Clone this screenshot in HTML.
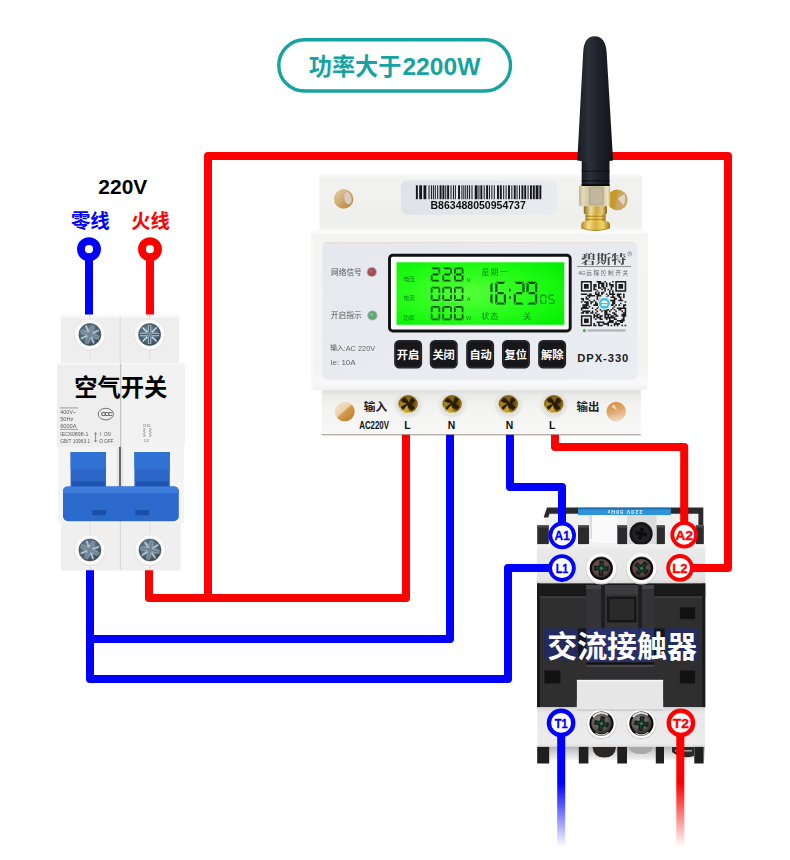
<!DOCTYPE html><html lang="zh"><head><meta charset="utf-8"><title>wiring</title><style>html,body{margin:0;padding:0;background:#fff}body{width:790px;height:860px;overflow:hidden;font-family:"Liberation Sans",sans-serif}svg{display:block}</style></head><body><svg role="img" aria-label="功率大于2200W 接线图" width="790" height="860" viewBox="0 0 790 860"><defs>
<linearGradient id="fadeB" x1="0" y1="0" x2="0" y2="1"><stop offset="0" stop-color="#0000ff"/><stop offset="0.43" stop-color="#0000ff"/><stop offset="1" stop-color="#0000ff" stop-opacity="0"/></linearGradient>
<linearGradient id="fadeR" x1="0" y1="0" x2="0" y2="1"><stop offset="0" stop-color="#ff0000"/><stop offset="0.43" stop-color="#ff0000"/><stop offset="1" stop-color="#ff0000" stop-opacity="0"/></linearGradient>
<radialGradient id="steel" cx="0.45" cy="0.42" r="0.62"><stop offset="0" stop-color="#7b93a4"/><stop offset="0.65" stop-color="#4f6678"/><stop offset="1" stop-color="#35434f"/></radialGradient>
<radialGradient id="brass" cx="0.5" cy="0.45" r="0.6"><stop offset="0" stop-color="#3a2a08"/><stop offset="0.55" stop-color="#6a5010"/><stop offset="0.85" stop-color="#9c7c1c"/><stop offset="1" stop-color="#5e480e"/></radialGradient>
<linearGradient id="amber" x1="0.1" y1="0.15" x2="0.9" y2="0.85"><stop offset="0" stop-color="#f6ead6"/><stop offset="0.38" stop-color="#ecd3a8"/><stop offset="0.55" stop-color="#d9a55c"/><stop offset="1" stop-color="#c07f2c"/></linearGradient>
<radialGradient id="darkscrew" cx="0.45" cy="0.4" r="0.6"><stop offset="0" stop-color="#6a6f68"/><stop offset="0.6" stop-color="#3a3d38"/><stop offset="1" stop-color="#1a1a1a"/></radialGradient>
<linearGradient id="ant" x1="0" y1="0" x2="1" y2="0"><stop offset="0" stop-color="#181b22"/><stop offset="0.3" stop-color="#2c3039"/><stop offset="0.55" stop-color="#20232b"/><stop offset="1" stop-color="#12141a"/></linearGradient>
<linearGradient id="gold2" x1="0" y1="0" x2="1" y2="0"><stop offset="0" stop-color="#b08a24"/><stop offset="0.25" stop-color="#f4dc80"/><stop offset="0.5" stop-color="#d8b040"/><stop offset="0.75" stop-color="#f0d468"/><stop offset="1" stop-color="#a07818"/></linearGradient>
<linearGradient id="nut" x1="0" y1="0" x2="1" y2="0"><stop offset="0" stop-color="#b9ae88"/><stop offset="0.12" stop-color="#e4dcbc"/><stop offset="0.3" stop-color="#cfc6a2"/><stop offset="0.8" stop-color="#d6cda8"/><stop offset="0.92" stop-color="#ece4c4"/><stop offset="1" stop-color="#c4b890"/></linearGradient>
<linearGradient id="gold" x1="0" y1="0" x2="1" y2="0"><stop offset="0" stop-color="#8a6a22"/><stop offset="0.3" stop-color="#f0dc98"/><stop offset="0.55" stop-color="#c9a648"/><stop offset="0.8" stop-color="#e6cc80"/><stop offset="1" stop-color="#7a5c1c"/></linearGradient>
<radialGradient id="lcd" cx="0.42" cy="0.5" r="0.7"><stop offset="0" stop-color="#56ff3a"/><stop offset="0.6" stop-color="#22fb16"/><stop offset="1" stop-color="#05f005"/></radialGradient>
<linearGradient id="lbl" x1="0" y1="0" x2="1" y2="0"><stop offset="0" stop-color="#dfe3e9"/><stop offset="1" stop-color="#e9ebef"/></linearGradient>
<linearGradient id="bodyV" x1="0" y1="0" x2="0" y2="1"><stop offset="0" stop-color="#f4f4f3"/><stop offset="0.88" stop-color="#f3f3f2"/><stop offset="0.95" stop-color="#f9f9f9"/><stop offset="1" stop-color="#f1f1f0"/></linearGradient>
<linearGradient id="topV" x1="0" y1="0" x2="0" y2="1"><stop offset="0" stop-color="#f8f8f7"/><stop offset="0.08" stop-color="#f1f1ef"/><stop offset="0.8" stop-color="#efefed"/><stop offset="1" stop-color="#f6f6f5"/></linearGradient>
<linearGradient id="termV" x1="0" y1="0" x2="0" y2="1"><stop offset="0" stop-color="#d6d6d4"/><stop offset="0.11" stop-color="#dededc"/><stop offset="0.22" stop-color="#ececeb"/><stop offset="0.45" stop-color="#f3f3f2"/><stop offset="1" stop-color="#f8f8f8"/></linearGradient>
<linearGradient id="faceV" x1="0" y1="0" x2="1" y2="1"><stop offset="0" stop-color="#e6e8ee"/><stop offset="1" stop-color="#eaedf2"/></linearGradient>
<linearGradient id="holeA" x1="0.1" y1="0.1" x2="0.9" y2="0.9"><stop offset="0" stop-color="#e0c9a2"/><stop offset="0.5" stop-color="#cfa970"/><stop offset="1" stop-color="#b98436"/></linearGradient>
<linearGradient id="holeB" x1="0" y1="0.4" x2="1" y2="0.6"><stop offset="0" stop-color="#c9961e"/><stop offset="0.4" stop-color="#c89a2a"/><stop offset="0.55" stop-color="#cba766"/><stop offset="1" stop-color="#c9a86e"/></linearGradient>
<linearGradient id="holeC" x1="0.15" y1="0.1" x2="0.85" y2="0.9"><stop offset="0" stop-color="#f1e2cc"/><stop offset="0.42" stop-color="#ecd2ac"/><stop offset="0.52" stop-color="#d29a50"/><stop offset="1" stop-color="#c28232"/></linearGradient>
<linearGradient id="holeD" x1="0.3" y1="0" x2="0.6" y2="1"><stop offset="0" stop-color="#d48f42"/><stop offset="0.45" stop-color="#dfa568"/><stop offset="1" stop-color="#efdcc6"/></linearGradient>
<linearGradient id="termShadow" x1="0" y1="0" x2="0" y2="1"><stop offset="0" stop-color="#c9c8c4"/><stop offset="1" stop-color="#f3f2ee"/></linearGradient>
<linearGradient id="bandV" x1="0" y1="0" x2="0" y2="1"><stop offset="0" stop-color="#f4f4f4"/><stop offset="0.15" stop-color="#e9e9e9"/><stop offset="0.9" stop-color="#e4e4e4"/><stop offset="1" stop-color="#cfcfcf"/></linearGradient>
<linearGradient id="bandV2" x1="0" y1="0" x2="0" y2="1"><stop offset="0" stop-color="#d6d6d6"/><stop offset="0.15" stop-color="#e8e8e8"/><stop offset="0.9" stop-color="#ececec"/><stop offset="1" stop-color="#dcdcdc"/></linearGradient>
<linearGradient id="botV" x1="0" y1="0" x2="0" y2="1"><stop offset="0" stop-color="#b4b4b4"/><stop offset="0.5" stop-color="#d8d8d8"/><stop offset="1" stop-color="#f2f2f2"/></linearGradient>
<radialGradient id="cs2" cx="0.42" cy="0.38" r="0.7"><stop offset="0" stop-color="#9a9090"/><stop offset="0.6" stop-color="#5e5654"/><stop offset="1" stop-color="#1e1c1c"/></radialGradient>
<radialGradient id="cs" cx="0.45" cy="0.4" r="0.65"><stop offset="0" stop-color="#7a5f58"/><stop offset="0.7" stop-color="#5a433e"/><stop offset="1" stop-color="#2a2220"/></radialGradient>
<filter id="b1" x="-10%" y="-10%" width="120%" height="120%"><feGaussianBlur stdDeviation="0.6"/></filter>
<filter id="b2" x="-10%" y="-10%" width="120%" height="120%"><feGaussianBlur stdDeviation="1.2"/></filter>
<filter id="b05" x="-10%" y="-10%" width="120%" height="120%"><feGaussianBlur stdDeviation="0.35"/></filter>
</defs><rect x="278.8" y="39.7" width="231.7" height="51.3" rx="25.6" fill="#fff" stroke="#16a3a1" stroke-width="3.4"/>
<text x="308.8" y="75.1" font-family="Liberation Sans, Noto Sans CJK SC, sans-serif" font-size="23.5" font-weight="bold" fill="#16a3a1" text-anchor="start" textLength="92.5" lengthAdjust="spacingAndGlyphs">功率大于</text>
<text x="402.4" y="75.1" font-family="Liberation Sans, sans-serif" font-size="23.6" font-weight="bold" fill="#16a3a1" text-anchor="start" textLength="78" lengthAdjust="spacingAndGlyphs">2200W</text>
<path d="M208 598 L208 156 L728 156 L728 568 L712 568" fill="none" stroke="#ff0000" stroke-width="8.0" stroke-linejoin="round" />
<g><rect x="61" y="315.8" width="118" height="48" rx="2" fill="#eeeeef"/><rect x="61" y="315.8" width="118" height="2" rx="1" fill="#f7f7f7"/><rect x="61" y="519" width="119.8" height="51.5" rx="2" fill="#efefef"/><rect x="58.2" y="445" width="125.8" height="78" fill="#f4f4f4"/><rect x="116.5" y="447" width="7" height="40" fill="#e4e4e4"/><rect x="119.1" y="446" width="1.8" height="41" fill="#5a5a5a"/><rect x="57.2" y="362.8" width="127.6" height="84" rx="3" fill="#eeeeee"/><rect x="121" y="362.8" width="63.8" height="84" rx="3" fill="#f2f2f2"/><rect x="57.2" y="362.8" width="127.6" height="2" rx="1" fill="#f8f8f8"/><rect x="119.6" y="316" width="1.2" height="48" fill="#dcdcdc"/><rect x="120" y="364" width="1.3" height="83" fill="#c6c6c6"/><rect x="119.8" y="521" width="1.2" height="49" fill="#d8d8d8"/><rect x="70.6" y="452" width="35.4" height="36" fill="#2b66c6"/><rect x="70.6" y="452" width="35.4" height="17.4" fill="#3172d4"/><rect x="72.1" y="481.4" width="32.4" height="6" fill="#1f55b0"/><rect x="134.4" y="452" width="35.4" height="36" fill="#2b66c6"/><rect x="134.4" y="452" width="35.4" height="17.4" fill="#3172d4"/><rect x="135.9" y="481.4" width="32.4" height="6" fill="#1f55b0"/><rect x="63" y="486.4" width="115.8" height="34.8" rx="5" fill="#2c69cc"/><path d="M63 493 V491.4 Q63 486.4 68 486.4 H173.8 Q178.8 486.4 178.8 491.4 V493Z" fill="#3f7ddb"/><rect x="92.4" y="510" width="13.6" height="5.3" rx="1" fill="#1a4fa8"/><rect x="135.3" y="510" width="13.8" height="5.3" rx="1" fill="#1a4fa8"/><rect x="89.5" y="314.5" width="0.9" height="9" fill="#d8d8d8"/><rect x="89.5" y="345.5" width="0.9" height="14" fill="#dedede"/><circle cx="89.9" cy="335.0" r="15.6" fill="#e2e2e2" filter="url(#b1)"/><circle cx="89.9" cy="334.5" r="14.8" fill="#fbfbfb"/><circle cx="89.9" cy="334.5" r="11" fill="url(#steel)"/><g transform="translate(89.9 334.5) rotate(20)" filter="url(#b05)"><path d="M-9.5 -1.7H-1.7V-9.5H1.7V-1.7H9.5V1.7H1.7V9.5H-1.7V1.7H-9.5Z" fill="#9fb4c3"/><path d="M-7 -7L7 7M7 -7L-7 7" stroke="#e4ecf1" stroke-width="1.1"/><path d="M-9 0H9M0 -9V9" stroke="#33424e" stroke-width="0.9"/><rect x="-2.6" y="-2.6" width="5.2" height="5.2" fill="#6f8a9c"/></g><circle cx="89.9" cy="334.5" r="11" fill="none" stroke="#3c4a55" stroke-width="0.8" opacity="0.7"/><rect x="149.2" y="314.5" width="0.9" height="9" fill="#d8d8d8"/><rect x="149.2" y="345.5" width="0.9" height="14" fill="#dedede"/><circle cx="149.6" cy="335.0" r="15.6" fill="#e2e2e2" filter="url(#b1)"/><circle cx="149.6" cy="334.5" r="14.8" fill="#fbfbfb"/><circle cx="149.6" cy="334.5" r="11" fill="url(#steel)"/><g transform="translate(149.6 334.5) rotate(0)" filter="url(#b05)"><path d="M-9.5 -1.7H-1.7V-9.5H1.7V-1.7H9.5V1.7H1.7V9.5H-1.7V1.7H-9.5Z" fill="#9fb4c3"/><path d="M-7 -7L7 7M7 -7L-7 7" stroke="#e4ecf1" stroke-width="1.1"/><path d="M-9 0H9M0 -9V9" stroke="#33424e" stroke-width="0.9"/><rect x="-2.6" y="-2.6" width="5.2" height="5.2" fill="#6f8a9c"/></g><circle cx="149.6" cy="334.5" r="11" fill="none" stroke="#3c4a55" stroke-width="0.8" opacity="0.7"/><rect x="89.5" y="561" width="0.9" height="9" fill="#d8d8d8"/><rect x="89.5" y="522" width="0.9" height="17" fill="#dedede"/><circle cx="89.9" cy="550.5" r="15.6" fill="#e2e2e2" filter="url(#b1)"/><circle cx="89.9" cy="550" r="14.8" fill="#fbfbfb"/><circle cx="89.9" cy="550" r="11" fill="url(#steel)"/><g transform="translate(89.9 550) rotate(25)" filter="url(#b05)"><path d="M-9.5 -1.7H-1.7V-9.5H1.7V-1.7H9.5V1.7H1.7V9.5H-1.7V1.7H-9.5Z" fill="#9fb4c3"/><path d="M-7 -7L7 7M7 -7L-7 7" stroke="#e4ecf1" stroke-width="1.1"/><path d="M-9 0H9M0 -9V9" stroke="#33424e" stroke-width="0.9"/><rect x="-2.6" y="-2.6" width="5.2" height="5.2" fill="#6f8a9c"/></g><circle cx="89.9" cy="550" r="11" fill="none" stroke="#3c4a55" stroke-width="0.8" opacity="0.7"/><rect x="149.6" y="561" width="0.9" height="9" fill="#d8d8d8"/><rect x="149.6" y="522" width="0.9" height="17" fill="#dedede"/><circle cx="150" cy="550.5" r="15.6" fill="#e2e2e2" filter="url(#b1)"/><circle cx="150" cy="550" r="14.8" fill="#fbfbfb"/><circle cx="150" cy="550" r="11" fill="url(#steel)"/><g transform="translate(150 550) rotate(12)" filter="url(#b05)"><path d="M-9.5 -1.7H-1.7V-9.5H1.7V-1.7H9.5V1.7H1.7V9.5H-1.7V1.7H-9.5Z" fill="#9fb4c3"/><path d="M-7 -7L7 7M7 -7L-7 7" stroke="#e4ecf1" stroke-width="1.1"/><path d="M-9 0H9M0 -9V9" stroke="#33424e" stroke-width="0.9"/><rect x="-2.6" y="-2.6" width="5.2" height="5.2" fill="#6f8a9c"/></g><circle cx="150" cy="550" r="11" fill="none" stroke="#3c4a55" stroke-width="0.8" opacity="0.7"/></g>
<text x="74.3" y="396.3" font-family="Liberation Sans, Noto Sans CJK SC, sans-serif" font-size="23.3" font-weight="bold" fill="#000" text-anchor="start" textLength="92.8" lengthAdjust="spacingAndGlyphs">空气开关</text>
<g filter="url(#b05)"><text x="60.2" y="414.3" font-family="Liberation Sans, sans-serif" font-size="4.9" font-weight="normal" fill="#5c5c5c" text-anchor="start" textLength="16" lengthAdjust="spacingAndGlyphs">400V~</text><text x="60.2" y="421.3" font-family="Liberation Sans, sans-serif" font-size="4.9" font-weight="normal" fill="#5c5c5c" text-anchor="start" textLength="13" lengthAdjust="spacingAndGlyphs">50Hz</text><text x="60.2" y="427.7" font-family="Liberation Sans, sans-serif" font-size="4.9" font-weight="normal" fill="#5c5c5c" text-anchor="start" textLength="16.3" lengthAdjust="spacingAndGlyphs">6000A</text><rect x="60" y="407.6" width="18" height="0.7" fill="#777"/><rect x="60" y="428.9" width="18" height="0.7" fill="#777"/><text x="60.2" y="436.4" font-family="Liberation Sans, sans-serif" font-size="4.9" font-weight="normal" fill="#5c5c5c" text-anchor="start" textLength="28.2" lengthAdjust="spacingAndGlyphs">IEC60898-1</text><text x="60.2" y="442.8" font-family="Liberation Sans, sans-serif" font-size="4.9" font-weight="normal" fill="#5c5c5c" text-anchor="start" textLength="30" lengthAdjust="spacingAndGlyphs">GB/T 10963.1</text><text x="99.6" y="436.4" font-family="Liberation Sans, sans-serif" font-size="4.9" font-weight="normal" fill="#555" text-anchor="start" >I</text><text x="104" y="436.4" font-family="Liberation Sans, sans-serif" font-size="4.9" font-weight="normal" fill="#555" text-anchor="start" textLength="6.6" lengthAdjust="spacingAndGlyphs">ON</text><text x="99.2" y="442.8" font-family="Liberation Sans, sans-serif" font-size="4.9" font-weight="normal" fill="#555" text-anchor="start" >O</text><text x="104" y="442.8" font-family="Liberation Sans, sans-serif" font-size="4.9" font-weight="normal" fill="#555" text-anchor="start" textLength="9.4" lengthAdjust="spacingAndGlyphs">OFF</text><path d="M95.6 433 v8.6 M94.5 434.2 l1.1 -1.6 l1.1 1.6 M94.5 440.4 l1.1 1.6 l1.1 -1.6" stroke="#444" stroke-width="0.6" fill="none"/><ellipse cx="105.8" cy="414.1" rx="7.6" ry="5.8" fill="none" stroke="#555" stroke-width="0.8"/><text x="106.3" y="416.2" font-family="Liberation Sans, sans-serif" font-size="6.2" font-weight="bold" fill="#444" text-anchor="middle" letter-spacing="-1.0" >CCC</text><path d="M143.5 428 q3 1.5 0 3 q3 1.5 0 3 q3 1.5 0 3 M149.5 428 q3 1.5 0 3 q3 1.5 0 3 q3 1.5 0 3" stroke="#555" stroke-width="0.7" fill="none"/><text x="146.5" y="426.5" font-family="Liberation Sans, sans-serif" font-size="2.6" font-weight="normal" fill="#666" text-anchor="middle" >1/2 3/4</text><text x="146.5" y="441.5" font-family="Liberation Sans, sans-serif" font-size="2.6" font-weight="normal" fill="#666" text-anchor="middle" >2/  4/</text></g>
<g><rect x="319.4" y="174.6" width="322.8" height="60" rx="2.5" fill="url(#topV)"/><rect x="321.8" y="385" width="319" height="50" rx="1.5" fill="url(#termV)"/><rect x="321.8" y="434.2" width="319" height="1.1" fill="#a39c94"/><rect x="311.2" y="230.2" width="336.6" height="160" rx="3.5" fill="url(#bodyV)"/><rect x="311.2" y="230.2" width="336.6" height="3.4" rx="2" fill="#fbfbfb"/><rect x="311.2" y="230.2" width="2.2" height="160" rx="1" fill="#f8f8f8"/><rect x="322.2" y="242.4" width="315.1" height="137.3" rx="5" fill="url(#faceV)"/><rect x="325" y="242.2" width="309" height="0.9" fill="#e4dccb"/><g filter="url(#b05)"><circle cx="343.6" cy="198.9" r="10.700000000000001" fill="#f6f4f0"/><circle cx="343.6" cy="198.9" r="9.8" fill="url(#holeA)"/><ellipse cx="347.90000000000003" cy="198.3" rx="3.6" ry="6.2" transform="rotate(-12 347.90000000000003 198.3)" fill="#dccbc2" filter="url(#b1)"/></g><g filter="url(#b05)"><circle cx="617.4" cy="199.9" r="11.200000000000001" fill="#f6f4f0"/><circle cx="617.4" cy="199.9" r="10.3" fill="url(#holeB)"/><path d="M617.9 198.4 L624.4 193.9 Q626.4 199.9 623.4 205.4 Z" fill="#e2d5c8" filter="url(#b1)"/></g><g filter="url(#b05)"><circle cx="344.8" cy="411.4" r="10.8" fill="#f6f4f0"/><circle cx="344.8" cy="411.4" r="9.9" fill="url(#holeC)"/></g><g filter="url(#b05)"><circle cx="616.2" cy="411.6" r="10.700000000000001" fill="#f6f4f0"/><circle cx="616.2" cy="411.6" r="9.8" fill="url(#holeD)"/><path d="M611.2 406.6 L617.2 410.6 L614.2 404.6Z" fill="#f2dcc4" filter="url(#b05)"/></g></g>
<g filter="url(#b05)"><rect x="401" y="180.4" width="155.8" height="34.4" rx="6" fill="url(#lbl)"/><rect x="415.9" y="185.3" width="1.92" height="13.9" fill="#15151a"/><rect x="419.23" y="185.3" width="2.82" height="13.9" fill="#15151a"/><rect x="423.47" y="185.3" width="2.82" height="13.9" fill="#15151a"/><rect x="428.51" y="185.3" width="1.01" height="13.9" fill="#15151a"/><rect x="430.93" y="185.3" width="1.01" height="13.9" fill="#15151a"/><rect x="432.85" y="185.3" width="1.01" height="13.9" fill="#15151a"/><rect x="434.77" y="185.3" width="1.01" height="13.9" fill="#15151a"/><rect x="437.19" y="185.3" width="1.01" height="13.9" fill="#15151a"/><rect x="439.61" y="185.3" width="1.92" height="13.9" fill="#15151a"/><rect x="442.43" y="185.3" width="1.92" height="13.9" fill="#15151a"/><rect x="445.26" y="185.3" width="1.01" height="13.9" fill="#15151a"/><rect x="447.17" y="185.3" width="1.92" height="13.9" fill="#15151a"/><rect x="450.5" y="185.3" width="1.01" height="13.9" fill="#15151a"/><rect x="452.92" y="185.3" width="1.01" height="13.9" fill="#15151a"/><rect x="454.84" y="185.3" width="1.01" height="13.9" fill="#15151a"/><rect x="458.07" y="185.3" width="1.92" height="13.9" fill="#15151a"/><rect x="461.4" y="185.3" width="1.01" height="13.9" fill="#15151a"/><rect x="463.32" y="185.3" width="1.01" height="13.9" fill="#15151a"/><rect x="465.23" y="185.3" width="1.01" height="13.9" fill="#15151a"/><rect x="467.15" y="185.3" width="1.01" height="13.9" fill="#15151a"/><rect x="469.07" y="185.3" width="1.01" height="13.9" fill="#15151a"/><rect x="471.49" y="185.3" width="1.01" height="13.9" fill="#15151a"/><rect x="474.72" y="185.3" width="2.82" height="13.9" fill="#15151a"/><rect x="478.45" y="185.3" width="1.01" height="13.9" fill="#15151a"/><rect x="480.37" y="185.3" width="1.92" height="13.9" fill="#15151a"/><rect x="483.69" y="185.3" width="1.01" height="13.9" fill="#15151a"/><rect x="486.12" y="185.3" width="1.92" height="13.9" fill="#15151a"/><rect x="488.94" y="185.3" width="1.01" height="13.9" fill="#15151a"/><rect x="491.36" y="185.3" width="1.01" height="13.9" fill="#15151a"/><rect x="493.78" y="185.3" width="1.01" height="13.9" fill="#15151a"/><rect x="497.01" y="185.3" width="1.92" height="13.9" fill="#15151a"/><rect x="499.84" y="185.3" width="1.92" height="13.9" fill="#15151a"/><rect x="503.17" y="185.3" width="1.01" height="13.9" fill="#15151a"/><rect x="505.59" y="185.3" width="1.01" height="13.9" fill="#15151a"/><rect x="508.01" y="185.3" width="1.92" height="13.9" fill="#15151a"/><rect x="511.34" y="185.3" width="1.01" height="13.9" fill="#15151a"/><rect x="513.76" y="185.3" width="1.92" height="13.9" fill="#15151a"/><rect x="516.58" y="185.3" width="1.01" height="13.9" fill="#15151a"/><rect x="519.0" y="185.3" width="1.01" height="13.9" fill="#15151a"/><rect x="521.43" y="185.3" width="1.92" height="13.9" fill="#15151a"/><rect x="524.25" y="185.3" width="1.92" height="13.9" fill="#15151a"/><rect x="527.58" y="185.3" width="1.01" height="13.9" fill="#15151a"/><rect x="530.0" y="185.3" width="1.92" height="13.9" fill="#15151a"/><rect x="532.83" y="185.3" width="1.92" height="13.9" fill="#15151a"/><rect x="535.65" y="185.3" width="2.82" height="13.9" fill="#15151a"/><rect x="539.38" y="185.3" width="1.92" height="13.9" fill="#15151a"/><text x="430.5" y="209.0" font-family="Liberation Sans, sans-serif" font-size="10.7" font-weight="bold" fill="#111" text-anchor="start" textLength="95.3" lengthAdjust="spacingAndGlyphs">B863488050954737</text></g>
<g filter="url(#b05)"><text x="331" y="274.8" font-family="Liberation Sans, Noto Sans CJK SC, sans-serif" font-size="7.7" font-weight="normal" fill="#555" text-anchor="start" textLength="30.8" lengthAdjust="spacingAndGlyphs">网络信号</text><circle cx="371.8" cy="272" r="5.1" fill="#a9a9a9"/><circle cx="371.8" cy="272" r="4.1" fill="#a3494f"/><circle cx="370.8" cy="271" r="1.8" fill="#b86a6e" opacity="0.7"/><text x="330.8" y="318.4" font-family="Liberation Sans, Noto Sans CJK SC, sans-serif" font-size="7.7" font-weight="normal" fill="#555" text-anchor="start" textLength="30.8" lengthAdjust="spacingAndGlyphs">开启指示</text><circle cx="372.4" cy="315.5" r="5.1" fill="#a9a9a9"/><circle cx="372.4" cy="315.5" r="4.1" fill="#5fa873"/><circle cx="371.4" cy="314.5" r="1.8" fill="#86c596" opacity="0.7"/><text x="330.3" y="350.4" font-family="Liberation Sans, Noto Sans CJK SC, sans-serif" font-size="6.8" font-weight="normal" fill="#5a5a5a" text-anchor="start" textLength="13.6" lengthAdjust="spacingAndGlyphs">输入</text><text x="343.6" y="350.5" font-family="Liberation Sans, sans-serif" font-size="8.0" font-weight="normal" fill="#666" text-anchor="start" textLength="31.6" lengthAdjust="spacingAndGlyphs">:AC 220V</text><text x="330.3" y="365.2" font-family="Liberation Sans, sans-serif" font-size="8.0" font-weight="normal" fill="#666" text-anchor="start" textLength="25.3" lengthAdjust="spacingAndGlyphs">Ie: 10A</text></g>
<g><rect x="389.5" y="255.3" width="180.7" height="75.7" rx="3.2" fill="#fbfbfb" stroke="#121216" stroke-width="2.9"/><rect x="396.5" y="262.3" width="167.8" height="62.5" fill="url(#lcd)"/><g filter="url(#b05)"><polygon points="431.32,267.4 439.68,267.4 437.93,269.15 433.07,269.15" fill="#0a4f0e"/><polygon points="440.2,267.92 438.45,269.67 438.45,273.1 440.2,273.98" fill="#0a4f0e"/><polygon points="432.2,274.5 433.07,273.62 437.93,273.62 438.8,274.5 437.93,275.38 433.07,275.38" fill="#0a4f0e"/><polygon points="430.8,275.02 432.55,275.9 432.55,279.32 430.8,281.07" fill="#0a4f0e"/><polygon points="431.32,281.6 439.68,281.6 437.93,279.85 433.07,279.85" fill="#0a4f0e"/><polygon points="442.93,267.4 451.28,267.4 449.53,269.15 444.68,269.15" fill="#0a4f0e"/><polygon points="451.8,267.92 450.05,269.67 450.05,273.1 451.8,273.98" fill="#0a4f0e"/><polygon points="443.8,274.5 444.68,273.62 449.53,273.62 450.4,274.5 449.53,275.38 444.68,275.38" fill="#0a4f0e"/><polygon points="442.4,275.02 444.15,275.9 444.15,279.32 442.4,281.07" fill="#0a4f0e"/><polygon points="442.93,281.6 451.28,281.6 449.53,279.85 444.68,279.85" fill="#0a4f0e"/><polygon points="454.52,267.4 462.88,267.4 461.12,269.15 456.27,269.15" fill="#0a4f0e"/><polygon points="463.4,267.92 461.65,269.67 461.65,273.1 463.4,273.98" fill="#0a4f0e"/><polygon points="463.4,275.02 461.65,275.9 461.65,279.32 463.4,281.07" fill="#0a4f0e"/><polygon points="454.52,281.6 462.88,281.6 461.12,279.85 456.27,279.85" fill="#0a4f0e"/><polygon points="454.0,275.02 455.75,275.9 455.75,279.32 454.0,281.07" fill="#0a4f0e"/><polygon points="454.0,267.92 455.75,269.67 455.75,273.1 454.0,273.98" fill="#0a4f0e"/><polygon points="455.4,274.5 456.27,273.62 461.12,273.62 462.0,274.5 461.12,275.38 456.27,275.38" fill="#0a4f0e"/><text x="468.6" y="281.59999999999997" font-family="Liberation Sans, sans-serif" font-size="5.6" font-weight="normal" fill="#0f8c16" text-anchor="middle" >V</text><polygon points="431.32,286.7 439.68,286.7 437.93,288.45 433.07,288.45" fill="#0a4f0e"/><polygon points="440.2,287.22 438.45,288.97 438.45,292.4 440.2,293.28" fill="#0a4f0e"/><polygon points="440.2,294.32 438.45,295.2 438.45,298.62 440.2,300.38" fill="#0a4f0e"/><polygon points="431.32,300.9 439.68,300.9 437.93,299.15 433.07,299.15" fill="#0a4f0e"/><polygon points="430.8,294.32 432.55,295.2 432.55,298.62 430.8,300.38" fill="#0a4f0e"/><polygon points="430.8,287.22 432.55,288.97 432.55,292.4 430.8,293.28" fill="#0a4f0e"/><polygon points="442.93,286.7 451.28,286.7 449.53,288.45 444.68,288.45" fill="#0a4f0e"/><polygon points="451.8,287.22 450.05,288.97 450.05,292.4 451.8,293.28" fill="#0a4f0e"/><polygon points="451.8,294.32 450.05,295.2 450.05,298.62 451.8,300.38" fill="#0a4f0e"/><polygon points="442.93,300.9 451.28,300.9 449.53,299.15 444.68,299.15" fill="#0a4f0e"/><polygon points="442.4,294.32 444.15,295.2 444.15,298.62 442.4,300.38" fill="#0a4f0e"/><polygon points="442.4,287.22 444.15,288.97 444.15,292.4 442.4,293.28" fill="#0a4f0e"/><polygon points="454.52,286.7 462.88,286.7 461.12,288.45 456.27,288.45" fill="#0a4f0e"/><polygon points="463.4,287.22 461.65,288.97 461.65,292.4 463.4,293.28" fill="#0a4f0e"/><polygon points="463.4,294.32 461.65,295.2 461.65,298.62 463.4,300.38" fill="#0a4f0e"/><polygon points="454.52,300.9 462.88,300.9 461.12,299.15 456.27,299.15" fill="#0a4f0e"/><polygon points="454.0,294.32 455.75,295.2 455.75,298.62 454.0,300.38" fill="#0a4f0e"/><polygon points="454.0,287.22 455.75,288.97 455.75,292.4 454.0,293.28" fill="#0a4f0e"/><text x="468.6" y="300.9" font-family="Liberation Sans, sans-serif" font-size="5.6" font-weight="normal" fill="#0f8c16" text-anchor="middle" >A</text><polygon points="431.32,306.0 439.68,306.0 437.93,307.75 433.07,307.75" fill="#0a4f0e"/><polygon points="440.2,306.52 438.45,308.27 438.45,311.7 440.2,312.58" fill="#0a4f0e"/><polygon points="440.2,313.62 438.45,314.5 438.45,317.93 440.2,319.68" fill="#0a4f0e"/><polygon points="431.32,320.2 439.68,320.2 437.93,318.45 433.07,318.45" fill="#0a4f0e"/><polygon points="430.8,313.62 432.55,314.5 432.55,317.93 430.8,319.68" fill="#0a4f0e"/><polygon points="430.8,306.52 432.55,308.27 432.55,311.7 430.8,312.58" fill="#0a4f0e"/><polygon points="442.93,306.0 451.28,306.0 449.53,307.75 444.68,307.75" fill="#0a4f0e"/><polygon points="451.8,306.52 450.05,308.27 450.05,311.7 451.8,312.58" fill="#0a4f0e"/><polygon points="451.8,313.62 450.05,314.5 450.05,317.93 451.8,319.68" fill="#0a4f0e"/><polygon points="442.93,320.2 451.28,320.2 449.53,318.45 444.68,318.45" fill="#0a4f0e"/><polygon points="442.4,313.62 444.15,314.5 444.15,317.93 442.4,319.68" fill="#0a4f0e"/><polygon points="442.4,306.52 444.15,308.27 444.15,311.7 442.4,312.58" fill="#0a4f0e"/><polygon points="454.52,306.0 462.88,306.0 461.12,307.75 456.27,307.75" fill="#0a4f0e"/><polygon points="463.4,306.52 461.65,308.27 461.65,311.7 463.4,312.58" fill="#0a4f0e"/><polygon points="463.4,313.62 461.65,314.5 461.65,317.93 463.4,319.68" fill="#0a4f0e"/><polygon points="454.52,320.2 462.88,320.2 461.12,318.45 456.27,318.45" fill="#0a4f0e"/><polygon points="454.0,313.62 455.75,314.5 455.75,317.93 454.0,319.68" fill="#0a4f0e"/><polygon points="454.0,306.52 455.75,308.27 455.75,311.7 454.0,312.58" fill="#0a4f0e"/><text x="468.6" y="320.2" font-family="Liberation Sans, sans-serif" font-size="5.6" font-weight="normal" fill="#0f8c16" text-anchor="middle" >W</text><text x="403.2" y="281.1" font-family="Liberation Sans, Noto Sans CJK SC, sans-serif" font-size="5.9" font-weight="normal" fill="#0f8c16" text-anchor="start" textLength="11.8" lengthAdjust="spacingAndGlyphs">电压</text><text x="403.2" y="300.4" font-family="Liberation Sans, Noto Sans CJK SC, sans-serif" font-size="5.9" font-weight="normal" fill="#0f8c16" text-anchor="start" textLength="11.8" lengthAdjust="spacingAndGlyphs">电流</text><text x="402.9" y="319.7" font-family="Liberation Sans, Noto Sans CJK SC, sans-serif" font-size="5.9" font-weight="normal" fill="#0f8c16" text-anchor="start" textLength="11.8" lengthAdjust="spacingAndGlyphs">功率</text><text x="481.4" y="275.1" font-family="Liberation Sans, Noto Sans CJK SC, sans-serif" font-size="8" font-weight="normal" fill="#0f8c16" text-anchor="start" textLength="26.3" lengthAdjust="spacing">星期一</text><text x="481.3" y="319.1" font-family="Liberation Sans, Noto Sans CJK SC, sans-serif" font-size="8" font-weight="normal" fill="#0f8c16" text-anchor="start" textLength="16.9" lengthAdjust="spacing">状态</text><text x="523.3" y="319.1" font-family="Liberation Sans, Noto Sans CJK SC, sans-serif" font-size="8" font-weight="normal" fill="#0f8c16" text-anchor="start">关</text><polygon points="492.5,282.44 490.35,284.59 490.35,291.48 492.5,292.56" fill="#0a4f0e"/><polygon points="492.5,293.84 490.35,294.92 490.35,301.81 492.5,303.96" fill="#0a4f0e"/><polygon points="495.94,281.8 505.35,281.8 503.2,283.95 498.09,283.95" fill="#0a4f0e"/><polygon points="495.3,282.44 497.45,284.59 497.45,291.48 495.3,292.56" fill="#0a4f0e"/><polygon points="497.02,293.2 498.09,292.12 503.2,292.12 504.28,293.2 503.2,294.27 498.09,294.27" fill="#0a4f0e"/><polygon points="495.3,293.84 497.45,294.92 497.45,301.81 495.3,303.96" fill="#0a4f0e"/><polygon points="495.94,304.6 505.35,304.6 503.2,302.45 498.09,302.45" fill="#0a4f0e"/><polygon points="506.0,293.84 503.85,294.92 503.85,301.81 506.0,303.96" fill="#0a4f0e"/><rect x="508.99999999999994" y="288.8" width="1.7" height="2.6" fill="#0a4f0e"/><rect x="508.99999999999994" y="296.3" width="1.7" height="2.6" fill="#0a4f0e"/><polygon points="514.44,281.8 523.86,281.8 521.71,283.95 516.59,283.95" fill="#0a4f0e"/><polygon points="524.5,282.44 522.35,284.59 522.35,291.48 524.5,292.56" fill="#0a4f0e"/><polygon points="515.52,293.2 516.59,292.12 521.71,292.12 522.78,293.2 521.71,294.27 516.59,294.27" fill="#0a4f0e"/><polygon points="513.8,293.84 515.95,294.92 515.95,301.81 513.8,303.96" fill="#0a4f0e"/><polygon points="514.44,304.6 523.86,304.6 521.71,302.45 516.59,302.45" fill="#0a4f0e"/><polygon points="527.14,281.8 536.56,281.8 534.41,283.95 529.29,283.95" fill="#0a4f0e"/><polygon points="537.2,282.44 535.05,284.59 535.05,291.48 537.2,292.56" fill="#0a4f0e"/><polygon points="526.5,282.44 528.65,284.59 528.65,291.48 526.5,292.56" fill="#0a4f0e"/><polygon points="528.22,293.2 529.29,292.12 534.41,292.12 535.48,293.2 534.41,294.27 529.29,294.27" fill="#0a4f0e"/><polygon points="537.2,293.84 535.05,294.92 535.05,301.81 537.2,303.96" fill="#0a4f0e"/><polygon points="527.14,304.6 536.56,304.6 534.41,302.45 529.29,302.45" fill="#0a4f0e"/><polygon points="540.59,294.6 546.01,294.6 544.71,295.9 541.89,295.9" fill="#0f8c16"/><polygon points="546.4,294.99 545.1,296.29 545.1,298.26 546.4,298.91" fill="#0f8c16"/><polygon points="546.4,299.69 545.1,300.34 545.1,302.31 546.4,303.61" fill="#0f8c16"/><polygon points="540.59,304.0 546.01,304.0 544.71,302.7 541.89,302.7" fill="#0f8c16"/><polygon points="540.2,299.69 541.5,300.34 541.5,302.31 540.2,303.61" fill="#0f8c16"/><polygon points="540.2,294.99 541.5,296.29 541.5,298.26 540.2,298.91" fill="#0f8c16"/><polygon points="548.79,294.6 554.21,294.6 552.91,295.9 550.09,295.9" fill="#0f8c16"/><polygon points="548.4,294.99 549.7,296.29 549.7,298.26 548.4,298.91" fill="#0f8c16"/><polygon points="549.44,299.3 550.09,298.65 552.91,298.65 553.56,299.3 552.91,299.95 550.09,299.95" fill="#0f8c16"/><polygon points="554.6,299.69 553.3,300.34 553.3,302.31 554.6,303.61" fill="#0f8c16"/><polygon points="548.79,304.0 554.21,304.0 552.91,302.7 550.09,302.7" fill="#0f8c16"/></g></g>
<g><rect x="394.2" y="339.9" width="27.9" height="28.6" rx="5.2" fill="#17171b"/><rect x="395.4" y="341" width="25.5" height="26.4" rx="4.4" fill="none" stroke="#3a3a40" stroke-width="0.7"/><text x="408" y="358.8" font-family="Liberation Sans, Noto Sans CJK SC, sans-serif" font-size="11.5" font-weight="bold" fill="#fff" text-anchor="middle" textLength="22.4" lengthAdjust="spacingAndGlyphs">开启</text><rect x="429.8" y="339.9" width="27.9" height="28.6" rx="5.2" fill="#17171b"/><rect x="431.0" y="341" width="25.5" height="26.4" rx="4.4" fill="none" stroke="#3a3a40" stroke-width="0.7"/><text x="443.6" y="358.8" font-family="Liberation Sans, Noto Sans CJK SC, sans-serif" font-size="11.5" font-weight="bold" fill="#fff" text-anchor="middle" textLength="22.4" lengthAdjust="spacingAndGlyphs">关闭</text><rect x="466.2" y="339.9" width="27.9" height="28.6" rx="5.2" fill="#17171b"/><rect x="467.4" y="341" width="25.5" height="26.4" rx="4.4" fill="none" stroke="#3a3a40" stroke-width="0.7"/><text x="480.6" y="358.8" font-family="Liberation Sans, Noto Sans CJK SC, sans-serif" font-size="11.5" font-weight="bold" fill="#fff" text-anchor="middle" textLength="22.4" lengthAdjust="spacingAndGlyphs">自动</text><rect x="502.0" y="339.9" width="27.9" height="28.6" rx="5.2" fill="#17171b"/><rect x="503.2" y="341" width="25.5" height="26.4" rx="4.4" fill="none" stroke="#3a3a40" stroke-width="0.7"/><text x="515.8" y="358.8" font-family="Liberation Sans, Noto Sans CJK SC, sans-serif" font-size="11.5" font-weight="bold" fill="#fff" text-anchor="middle" textLength="22.4" lengthAdjust="spacingAndGlyphs">复位</text><rect x="538.2" y="339.9" width="27.9" height="28.6" rx="5.2" fill="#17171b"/><rect x="539.4000000000001" y="341" width="25.5" height="26.4" rx="4.4" fill="none" stroke="#3a3a40" stroke-width="0.7"/><text x="552.2" y="358.8" font-family="Liberation Sans, Noto Sans CJK SC, sans-serif" font-size="11.5" font-weight="bold" fill="#fff" text-anchor="middle" textLength="22.6" lengthAdjust="spacingAndGlyphs">解除</text></g>
<text x="577.3" y="361.6" font-family="Liberation Sans, sans-serif" font-size="11.2" font-weight="bold" fill="#1d1d1d" text-anchor="start" textLength="51" lengthAdjust="spacing">DPX-330</text>
<g filter="url(#b05)"><text x="580.8" y="264" font-family="Liberation Serif, Noto Serif CJK SC, serif" font-size="12" font-weight="bold" fill="#444" text-anchor="start" textLength="45.7" lengthAdjust="spacingAndGlyphs">碧斯特</text><circle cx="629.7" cy="253.9" r="2.1" fill="none" stroke="#777" stroke-width="0.5"/><text x="629.7" y="255.0" font-family="Liberation Sans, sans-serif" font-size="2.8" font-weight="normal" fill="#777" text-anchor="middle" >R</text><rect x="577" y="266.2" width="54" height="0.8" fill="#777"/><text x="578.2" y="275.2" font-family="Liberation Sans, sans-serif" font-size="5.6" font-weight="normal" fill="#666" text-anchor="start" >4G</text><text x="586.3" y="275.2" font-family="Liberation Sans, Noto Sans CJK SC, sans-serif" font-size="5.6" font-weight="normal" fill="#666" text-anchor="start" textLength="41.9" lengthAdjust="spacing">远程控制开关</text></g>
<g filter="url(#b05)"><path d="M580.9 280.9h10.93v1.56h-10.93zM596.52 280.9h4.69v1.56h-4.69zM604.33 280.9h1.56v1.56h-1.56zM612.14 280.9h1.56v1.56h-1.56zM615.27 280.9h10.93v1.56h-10.93zM580.9 282.46h1.56v1.56h-1.56zM590.27 282.46h1.56v1.56h-1.56zM598.08 282.46h6.25v1.56h-6.25zM605.89 282.46h1.56v1.56h-1.56zM609.02 282.46h1.56v1.56h-1.56zM615.27 282.46h1.56v1.56h-1.56zM624.64 282.46h1.56v1.56h-1.56zM580.9 284.02h1.56v1.56h-1.56zM584.02 284.02h4.69v1.56h-4.69zM590.27 284.02h1.56v1.56h-1.56zM593.4 284.02h3.12v1.56h-3.12zM598.08 284.02h1.56v1.56h-1.56zM601.21 284.02h3.12v1.56h-3.12zM605.89 284.02h1.56v1.56h-1.56zM609.02 284.02h4.69v1.56h-4.69zM615.27 284.02h1.56v1.56h-1.56zM618.39 284.02h4.69v1.56h-4.69zM624.64 284.02h1.56v1.56h-1.56zM580.9 285.59h1.56v1.56h-1.56zM584.02 285.59h4.69v1.56h-4.69zM590.27 285.59h1.56v1.56h-1.56zM593.4 285.59h3.12v1.56h-3.12zM598.08 285.59h1.56v1.56h-1.56zM601.21 285.59h3.12v1.56h-3.12zM605.89 285.59h1.56v1.56h-1.56zM610.58 285.59h3.12v1.56h-3.12zM615.27 285.59h1.56v1.56h-1.56zM618.39 285.59h4.69v1.56h-4.69zM624.64 285.59h1.56v1.56h-1.56zM580.9 287.15h1.56v1.56h-1.56zM584.02 287.15h4.69v1.56h-4.69zM590.27 287.15h1.56v1.56h-1.56zM593.4 287.15h1.56v1.56h-1.56zM598.08 287.15h3.12v1.56h-3.12zM602.77 287.15h3.12v1.56h-3.12zM610.58 287.15h1.56v1.56h-1.56zM615.27 287.15h1.56v1.56h-1.56zM618.39 287.15h4.69v1.56h-4.69zM624.64 287.15h1.56v1.56h-1.56zM580.9 288.71h1.56v1.56h-1.56zM590.27 288.71h1.56v1.56h-1.56zM593.4 288.71h3.12v1.56h-3.12zM601.21 288.71h1.56v1.56h-1.56zM604.33 288.71h1.56v1.56h-1.56zM607.46 288.71h1.56v1.56h-1.56zM610.58 288.71h1.56v1.56h-1.56zM615.27 288.71h1.56v1.56h-1.56zM624.64 288.71h1.56v1.56h-1.56zM580.9 290.27h10.93v1.56h-10.93zM596.52 290.27h1.56v1.56h-1.56zM604.33 290.27h1.56v1.56h-1.56zM609.02 290.27h1.56v1.56h-1.56zM612.14 290.27h1.56v1.56h-1.56zM615.27 290.27h10.93v1.56h-10.93zM594.96 291.83h1.56v1.56h-1.56zM598.08 291.83h1.56v1.56h-1.56zM601.21 291.83h3.12v1.56h-3.12zM609.02 291.83h1.56v1.56h-1.56zM612.14 291.83h1.56v1.56h-1.56zM580.9 293.4h6.25v1.56h-6.25zM588.71 293.4h3.12v1.56h-3.12zM594.96 293.4h4.69v1.56h-4.69zM601.21 293.4h1.56v1.56h-1.56zM605.89 293.4h1.56v1.56h-1.56zM609.02 293.4h6.25v1.56h-6.25zM616.83 293.4h4.69v1.56h-4.69zM623.08 293.4h1.56v1.56h-1.56zM587.15 294.96h7.81v1.56h-7.81zM596.52 294.96h4.69v1.56h-4.69zM607.46 294.96h1.56v1.56h-1.56zM612.14 294.96h1.56v1.56h-1.56zM616.83 294.96h3.12v1.56h-3.12zM623.08 294.96h1.56v1.56h-1.56zM585.59 296.52h1.56v1.56h-1.56zM588.71 296.52h1.56v1.56h-1.56zM596.52 296.52h1.56v1.56h-1.56zM605.89 296.52h1.56v1.56h-1.56zM610.58 296.52h4.69v1.56h-4.69zM618.39 296.52h3.12v1.56h-3.12zM623.08 296.52h1.56v1.56h-1.56zM580.9 298.08h3.12v1.56h-3.12zM585.59 298.08h3.12v1.56h-3.12zM596.52 298.08h1.56v1.56h-1.56zM599.64 298.08h3.12v1.56h-3.12zM604.33 298.08h1.56v1.56h-1.56zM613.7 298.08h3.12v1.56h-3.12zM619.95 298.08h1.56v1.56h-1.56zM582.46 299.64h1.56v1.56h-1.56zM588.71 299.64h1.56v1.56h-1.56zM593.4 299.64h1.56v1.56h-1.56zM598.08 299.64h1.56v1.56h-1.56zM601.21 299.64h1.56v1.56h-1.56zM604.33 299.64h1.56v1.56h-1.56zM609.02 299.64h6.25v1.56h-6.25zM618.39 299.64h4.69v1.56h-4.69zM580.9 301.21h1.56v1.56h-1.56zM584.02 301.21h4.69v1.56h-4.69zM590.27 301.21h3.12v1.56h-3.12zM594.96 301.21h1.56v1.56h-1.56zM598.08 301.21h1.56v1.56h-1.56zM601.21 301.21h3.12v1.56h-3.12zM605.89 301.21h4.69v1.56h-4.69zM612.14 301.21h3.12v1.56h-3.12zM624.64 301.21h1.56v1.56h-1.56zM585.59 302.77h3.12v1.56h-3.12zM590.27 302.77h1.56v1.56h-1.56zM594.96 302.77h3.12v1.56h-3.12zM599.64 302.77h3.12v1.56h-3.12zM604.33 302.77h1.56v1.56h-1.56zM607.46 302.77h3.12v1.56h-3.12zM612.14 302.77h3.12v1.56h-3.12zM619.95 302.77h1.56v1.56h-1.56zM582.46 304.33h6.25v1.56h-6.25zM593.4 304.33h4.69v1.56h-4.69zM602.77 304.33h3.12v1.56h-3.12zM607.46 304.33h1.56v1.56h-1.56zM610.58 304.33h3.12v1.56h-3.12zM615.27 304.33h1.56v1.56h-1.56zM618.39 304.33h1.56v1.56h-1.56zM623.08 304.33h3.12v1.56h-3.12zM582.46 305.89h4.69v1.56h-4.69zM588.71 305.89h1.56v1.56h-1.56zM598.08 305.89h1.56v1.56h-1.56zM605.89 305.89h1.56v1.56h-1.56zM613.7 305.89h1.56v1.56h-1.56zM623.08 305.89h1.56v1.56h-1.56zM580.9 307.46h7.81v1.56h-7.81zM591.83 307.46h1.56v1.56h-1.56zM596.52 307.46h1.56v1.56h-1.56zM602.77 307.46h1.56v1.56h-1.56zM612.14 307.46h1.56v1.56h-1.56zM616.83 307.46h9.37v1.56h-9.37zM580.9 309.02h1.56v1.56h-1.56zM594.96 309.02h1.56v1.56h-1.56zM599.64 309.02h1.56v1.56h-1.56zM602.77 309.02h6.25v1.56h-6.25zM610.58 309.02h1.56v1.56h-1.56zM613.7 309.02h1.56v1.56h-1.56zM618.39 309.02h3.12v1.56h-3.12zM624.64 309.02h1.56v1.56h-1.56zM582.46 310.58h7.81v1.56h-7.81zM591.83 310.58h1.56v1.56h-1.56zM596.52 310.58h1.56v1.56h-1.56zM601.21 310.58h1.56v1.56h-1.56zM604.33 310.58h3.12v1.56h-3.12zM609.02 310.58h1.56v1.56h-1.56zM615.27 310.58h1.56v1.56h-1.56zM621.51 310.58h1.56v1.56h-1.56zM624.64 310.58h1.56v1.56h-1.56zM580.9 312.14h3.12v1.56h-3.12zM585.59 312.14h3.12v1.56h-3.12zM590.27 312.14h3.12v1.56h-3.12zM594.96 312.14h1.56v1.56h-1.56zM604.33 312.14h3.12v1.56h-3.12zM612.14 312.14h3.12v1.56h-3.12zM623.08 312.14h3.12v1.56h-3.12zM593.4 313.7h1.56v1.56h-1.56zM596.52 313.7h3.12v1.56h-3.12zM604.33 313.7h6.25v1.56h-6.25zM613.7 313.7h3.12v1.56h-3.12zM621.51 313.7h4.69v1.56h-4.69zM580.9 315.27h10.93v1.56h-10.93zM593.4 315.27h4.69v1.56h-4.69zM599.64 315.27h3.12v1.56h-3.12zM604.33 315.27h1.56v1.56h-1.56zM607.46 315.27h1.56v1.56h-1.56zM610.58 315.27h3.12v1.56h-3.12zM615.27 315.27h3.12v1.56h-3.12zM621.51 315.27h4.69v1.56h-4.69zM580.9 316.83h1.56v1.56h-1.56zM590.27 316.83h1.56v1.56h-1.56zM593.4 316.83h1.56v1.56h-1.56zM596.52 316.83h4.69v1.56h-4.69zM604.33 316.83h10.93v1.56h-10.93zM623.08 316.83h1.56v1.56h-1.56zM580.9 318.39h1.56v1.56h-1.56zM584.02 318.39h4.69v1.56h-4.69zM590.27 318.39h1.56v1.56h-1.56zM594.96 318.39h1.56v1.56h-1.56zM599.64 318.39h3.12v1.56h-3.12zM605.89 318.39h1.56v1.56h-1.56zM609.02 318.39h1.56v1.56h-1.56zM613.7 318.39h3.12v1.56h-3.12zM621.51 318.39h3.12v1.56h-3.12zM580.9 319.95h1.56v1.56h-1.56zM584.02 319.95h4.69v1.56h-4.69zM590.27 319.95h1.56v1.56h-1.56zM609.02 319.95h4.69v1.56h-4.69zM616.83 319.95h7.81v1.56h-7.81zM580.9 321.51h1.56v1.56h-1.56zM584.02 321.51h4.69v1.56h-4.69zM590.27 321.51h1.56v1.56h-1.56zM596.52 321.51h7.81v1.56h-7.81zM607.46 321.51h6.25v1.56h-6.25zM615.27 321.51h1.56v1.56h-1.56zM619.95 321.51h3.12v1.56h-3.12zM580.9 323.08h1.56v1.56h-1.56zM590.27 323.08h1.56v1.56h-1.56zM593.4 323.08h1.56v1.56h-1.56zM598.08 323.08h1.56v1.56h-1.56zM602.77 323.08h6.25v1.56h-6.25zM613.7 323.08h6.25v1.56h-6.25zM580.9 324.64h10.93v1.56h-10.93zM593.4 324.64h3.12v1.56h-3.12zM598.08 324.64h4.69v1.56h-4.69zM607.46 324.64h1.56v1.56h-1.56zM610.58 324.64h1.56v1.56h-1.56zM613.7 324.64h1.56v1.56h-1.56zM616.83 324.64h1.56v1.56h-1.56zM621.51 324.64h1.56v1.56h-1.56zM624.64 324.64h1.56v1.56h-1.56z" fill="#1a1a1a"/><circle cx="604.4" cy="303.3" r="6.6" fill="#f6f6f4"/><circle cx="604.4" cy="303.3" r="5.5" fill="#48c0dc"/><path d="M601.2 303 a3.2 2.6 0 0 1 6.4 0 z M601.6 304.2 h5.6 v1.6 h-5.6z" fill="#fff"/><circle cx="584.4" cy="330.6" r="1.6" fill="#3cb24a"/><rect x="587.5" y="329.3" width="38" height="2.4" fill="#8a8a8a" opacity="0.55"/></g>
<g><ellipse cx="408.1" cy="404.6" rx="13.6" ry="12.8" fill="#e3e3e1" filter="url(#b2)"/><g filter="url(#b05)"><ellipse cx="408.1" cy="404.0" rx="9.8" ry="8.9" fill="url(#brass)"/><g transform="translate(408.1 404.0) scale(1 0.9) rotate(48)"><path d="M-8 -2.3H-2.3V-8H2.3V-2.3H8V2.3H2.3V8H-2.3V2.3H-8Z" fill="#2a1c05"/><path d="M-6.6 -6.6L-3.2 -3.6L-3.6 -3.2Z M6.6 6.6L3.2 3.6L3.6 3.2Z" fill="#e8cf60"/></g><path d="M407.3 405.0 L402.6 410.5 L409.1 411.8Z" fill="#d2aa2c" opacity="0.9"/><path d="M406.90000000000003 403.5 L399.8 401.5 L400.5 407.2Z" fill="#b48c1e" opacity="0.85"/><path d="M409.1 403.0 L411.1 396.4 L405.1 396.2Z" fill="#8a6a14" opacity="0.8"/><path d="M399.5 406.5 A9.5 8.6 0 0 0 411.1 412.2" stroke="#e6d480" stroke-width="1" fill="none"/></g><ellipse cx="452.1" cy="404.6" rx="13.6" ry="12.8" fill="#e3e3e1" filter="url(#b2)"/><g filter="url(#b05)"><ellipse cx="452.1" cy="404.0" rx="9.8" ry="8.9" fill="url(#brass)"/><g transform="translate(452.1 404.0) scale(1 0.9) rotate(38)"><path d="M-8 -2.3H-2.3V-8H2.3V-2.3H8V2.3H2.3V8H-2.3V2.3H-8Z" fill="#2a1c05"/><path d="M-6.6 -6.6L-3.2 -3.6L-3.6 -3.2Z M6.6 6.6L3.2 3.6L3.6 3.2Z" fill="#e8cf60"/></g><path d="M451.3 405.0 L446.6 410.5 L453.1 411.8Z" fill="#d2aa2c" opacity="0.9"/><path d="M450.90000000000003 403.5 L443.8 401.5 L444.5 407.2Z" fill="#b48c1e" opacity="0.85"/><path d="M453.1 403.0 L455.1 396.4 L449.1 396.2Z" fill="#8a6a14" opacity="0.8"/><path d="M443.5 406.5 A9.5 8.6 0 0 0 455.1 412.2" stroke="#e6d480" stroke-width="1" fill="none"/></g><ellipse cx="508.4" cy="404.6" rx="13.6" ry="12.8" fill="#e3e3e1" filter="url(#b2)"/><g filter="url(#b05)"><ellipse cx="508.4" cy="404.0" rx="9.8" ry="8.9" fill="url(#brass)"/><g transform="translate(508.4 404.0) scale(1 0.9) rotate(42)"><path d="M-8 -2.3H-2.3V-8H2.3V-2.3H8V2.3H2.3V8H-2.3V2.3H-8Z" fill="#2a1c05"/><path d="M-6.6 -6.6L-3.2 -3.6L-3.6 -3.2Z M6.6 6.6L3.2 3.6L3.6 3.2Z" fill="#e8cf60"/></g><path d="M507.59999999999997 405.0 L502.9 410.5 L509.4 411.8Z" fill="#d2aa2c" opacity="0.9"/><path d="M507.2 403.5 L500.09999999999997 401.5 L500.79999999999995 407.2Z" fill="#b48c1e" opacity="0.85"/><path d="M509.4 403.0 L511.4 396.4 L505.4 396.2Z" fill="#8a6a14" opacity="0.8"/><path d="M499.79999999999995 406.5 A9.5 8.6 0 0 0 511.4 412.2" stroke="#e6d480" stroke-width="1" fill="none"/></g><ellipse cx="553.8" cy="404.6" rx="13.6" ry="12.8" fill="#e3e3e1" filter="url(#b2)"/><g filter="url(#b05)"><ellipse cx="553.8" cy="404.0" rx="9.8" ry="8.9" fill="url(#brass)"/><g transform="translate(553.8 404.0) scale(1 0.9) rotate(50)"><path d="M-8 -2.3H-2.3V-8H2.3V-2.3H8V2.3H2.3V8H-2.3V2.3H-8Z" fill="#2a1c05"/><path d="M-6.6 -6.6L-3.2 -3.6L-3.6 -3.2Z M6.6 6.6L3.2 3.6L3.6 3.2Z" fill="#e8cf60"/></g><path d="M553.0 405.0 L548.3 410.5 L554.8 411.8Z" fill="#d2aa2c" opacity="0.9"/><path d="M552.5999999999999 403.5 L545.5 401.5 L546.1999999999999 407.2Z" fill="#b48c1e" opacity="0.85"/><path d="M554.8 403.0 L556.8 396.4 L550.8 396.2Z" fill="#8a6a14" opacity="0.8"/><path d="M545.1999999999999 406.5 A9.5 8.6 0 0 0 556.8 412.2" stroke="#e6d480" stroke-width="1" fill="none"/></g></g>
<g><text x="363.8" y="410.6" font-family="Liberation Sans, Noto Sans CJK SC, sans-serif" font-size="11.7" font-weight="bold" fill="#222" text-anchor="start" textLength="23.4" lengthAdjust="spacingAndGlyphs">输入</text><text x="576.4" y="410.6" font-family="Liberation Sans, Noto Sans CJK SC, sans-serif" font-size="11.7" font-weight="bold" fill="#222" text-anchor="start" textLength="23" lengthAdjust="spacingAndGlyphs">输出</text><text x="359.2" y="428.7" font-family="Liberation Sans, sans-serif" font-size="11.2" font-weight="bold" fill="#111" text-anchor="start" textLength="29.8" lengthAdjust="spacingAndGlyphs">AC220V</text><text x="407.4" y="428.8" font-family="Liberation Sans, sans-serif" font-size="10.4" font-weight="bold" fill="#111" text-anchor="middle" >L</text><text x="451.6" y="428.8" font-family="Liberation Sans, sans-serif" font-size="10.4" font-weight="bold" fill="#111" text-anchor="middle" >N</text><text x="509.4" y="428.8" font-family="Liberation Sans, sans-serif" font-size="10.4" font-weight="bold" fill="#111" text-anchor="middle" >N</text><text x="552.2" y="428.8" font-family="Liberation Sans, sans-serif" font-size="10.4" font-weight="bold" fill="#111" text-anchor="middle" >L</text></g>
<g><path d="M581.2 225 Q581.2 221.4 585 221.2 H606 Q610 221.4 610 225 V228 Q595.6 233 581.2 228Z" fill="url(#gold2)"/><path d="M581.2 227.4 Q595.6 232.4 610 227.4 V228.6 Q595.6 233.4 581.2 228.6Z" fill="#a8801c"/><rect x="585.4" y="213.4" width="20.2" height="8.2" fill="url(#gold2)"/><rect x="585.4" y="215.6" width="20.2" height="1.3" fill="#a07818" opacity="0.7"/><rect x="585.4" y="218.8" width="20.2" height="1.3" fill="#a07818" opacity="0.7"/><rect x="583.8" y="205.4" width="23.1" height="8.6" rx="1" fill="url(#gold)"/><rect x="579.1" y="185.6" width="31.1" height="20.6" rx="1.8" fill="url(#nut)"/><rect x="589" y="186.6" width="14.7" height="18.6" rx="2.5" fill="#b9aa92"/><rect x="590.5" y="188" width="11.7" height="15.8" rx="2" fill="#c7baa2" opacity="0.8"/><rect x="581.7" y="160" width="27.8" height="26" fill="url(#ant)"/><rect x="581.7" y="170.6" width="27.8" height="1.1" fill="#0e1016"/><rect x="581.7" y="180.2" width="27.8" height="1.1" fill="#0e1016"/><rect x="581.7" y="184" width="27.8" height="2" fill="#0c0d12"/><path d="M577.3 160.6 L583.2 52 Q584 36.3 594.6 36.3 Q605.4 36.3 606.6 52 L613.1 160.6 Q595 163.6 577.3 160.6Z" fill="url(#ant)"/></g>
<g><rect x="544.5" y="508.4" width="159" height="37" fill="#f1f1f1"/><path d="M543.6 517.5 L547 507.6 H703.3 V525 H698.4 V513.8 H549.5 L548.2 517.5Z" fill="#2a2a2c"/><rect x="578" y="508.2" width="92.8" height="6.9" fill="#2f93dc"/><rect x="578" y="508.2" width="92.8" height="1.2" fill="#1d6cb0"/><text x="624.5" y="514.3" font-family="Liberation Sans, sans-serif" font-size="5.6" font-weight="bold" fill="#e4f2fd" text-anchor="middle" letter-spacing="0.9" filter="url(#b05)" transform="rotate(180 624.5 512.2)">220V 50Hz</text><path d="M589.5 515 H617.5 V543 H597 Q589.5 543 589.5 535Z" fill="#fafafa"/><rect x="589.5" y="515" width="2.5" height="24" fill="#dcdcdc"/><rect x="627" y="515" width="29.5" height="29.5" fill="#dcdcdc"/><rect x="537.2" y="525.4" width="11.6" height="19" fill="#2b2b2d"/><rect x="537.2" y="525.4" width="11.6" height="2.2" fill="#4a4a4c"/><rect x="578" y="525.4" width="11" height="19" fill="#2b2b2d"/><rect x="578" y="525.4" width="11" height="2.2" fill="#4a4a4c"/><rect x="617.3" y="525.4" width="9.8" height="19" fill="#2b2b2d"/><rect x="617.3" y="525.4" width="9.8" height="2.2" fill="#4a4a4c"/><rect x="656.7" y="525.4" width="8.2" height="19" fill="#2b2b2d"/><rect x="656.7" y="525.4" width="8.2" height="2.2" fill="#4a4a4c"/><rect x="695.8" y="525.4" width="8" height="19" fill="#2b2b2d"/><rect x="695.8" y="525.4" width="8" height="2.2" fill="#4a4a4c"/><circle cx="641.1" cy="533.7" r="11.6" fill="#151516"/><circle cx="641.1" cy="533.7" r="9" fill="#222224"/><g transform="translate(641.1 533.7) rotate(12)" fill="#0a0a0b" filter="url(#b05)"><rect x="-6" y="-1.5" width="12" height="3"/><rect x="-1.5" y="-6" width="3" height="12"/></g><rect x="536.8" y="544.3" width="168.6" height="39.8" fill="url(#bandV)"/><rect x="537" y="583.6" width="168.2" height="123.8" fill="#2f2f30"/><rect x="537" y="583.6" width="168.2" height="13" fill="#19191a"/><rect x="537" y="596.4" width="168.2" height="1.3" fill="#454547"/><rect x="537" y="583.6" width="3" height="123.8" fill="#1a1a1b"/><rect x="702.2" y="583.6" width="3" height="123.8" fill="#1a1a1b"/><rect x="586.2" y="585" width="67.9" height="43.6" fill="#343436"/><rect x="586.2" y="585" width="67.9" height="4" fill="#434345"/><rect x="601" y="585" width="4" height="43.6" fill="#1f1f20"/><rect x="638" y="585" width="4" height="43.6" fill="#1f1f20"/><rect x="607" y="596.5" width="29.5" height="26" fill="#161617"/><rect x="609.5" y="599" width="24.5" height="21" fill="#2a2a2b"/><rect x="605" y="585" width="33" height="9" fill="#3c3c3e"/><rect x="679.9" y="607.3" width="15.2" height="13" fill="#121213"/><rect x="679.9" y="619.3" width="15.2" height="1" fill="#3a3a3c"/><rect x="544.5" y="670.5" width="15.9" height="14.1" fill="#121213"/><rect x="544.5" y="683.6" width="15.9" height="1" fill="#3a3a3c"/><rect x="679.9" y="670.5" width="15.2" height="14.1" fill="#121213"/><rect x="679.9" y="683.6" width="15.2" height="1" fill="#3a3a3c"/><rect x="544.1" y="628.4" width="33.9" height="30.6" fill="#222a5e"/><rect x="664.7" y="628.4" width="33.9" height="30.6" fill="#222a5e"/><rect x="586.2" y="628.4" width="67.9" height="34" fill="#27306a"/><rect x="578" y="628.4" width="8.2" height="30.6" fill="#15171f"/><rect x="654.1" y="628.4" width="10.6" height="30.6" fill="#15171f"/><rect x="586.2" y="662.4" width="67.9" height="18" fill="#303032"/><rect x="586.2" y="662.4" width="67.9" height="2.4" fill="#111"/><rect x="586.2" y="664.8" width="67.9" height="2" fill="#48484a"/><rect x="537.3" y="707.2" width="167.6" height="40" fill="url(#bandV2)"/><rect x="576.9" y="679.9" width="86.2" height="30.3" fill="#e7e7e7"/><rect x="576.9" y="679.9" width="86.2" height="1.6" fill="#f6f6f6"/><rect x="576.9" y="709.4" width="86.2" height="1" fill="#c4c4c4"/><rect x="537.3" y="746.9" width="167.6" height="13" fill="url(#botV)"/><path d="M592.5 746.9 H616 Q615 757.5 604.3 757.5 Q593.5 757.5 592.5 746.9Z" fill="#2c2826"/><path d="M629 746.9 H653 Q652 754 641 754 Q630 754 629 746.9Z" fill="#a9a9a9"/><path d="M672 746.9 H694 V756 Q682 760 672 752Z" fill="#2a2a2a"/><rect x="675" y="750" width="17" height="1.6" fill="#999"/><rect x="537.2" y="746.9" width="12" height="16.6" fill="#1f1f20"/><rect x="578.8" y="746.9" width="9.6" height="16.6" fill="#1f1f20"/><rect x="617.3" y="746.9" width="9.7" height="16.6" fill="#1f1f20"/><rect x="655.8" y="746.9" width="8.2" height="16.6" fill="#1f1f20"/><rect x="694.3" y="746.9" width="9.3" height="16.6" fill="#1f1f20"/><circle cx="601.3" cy="568.9" r="15.6" fill="#cfcfcf" filter="url(#b1)"/><circle cx="601.3" cy="568.3" r="15" fill="#fdfdfd"/><circle cx="601.3" cy="568.3" r="11.6" fill="#0c0c0c"/><circle cx="601.3" cy="568.3" r="9.4" fill="url(#cs)"/><g transform="translate(601.3 568.3) rotate(3)" filter="url(#b05)"><path d="M-7.2 -2.2H-2.2V-7.2H2.2V-2.2H7.2V2.2H2.2V7.2H-2.2V2.2H-7.2Z" fill="#0a0f0c"/><path d="M-6 -1.2H-1.2V-6H1.2V-1.2H6V1.2H1.2V6H-1.2V1.2H-6Z" fill="#0f4030"/><circle r="1.3" fill="#5a7a68"/></g><path d="M592.8 560.8 A11.4 11.4 0 0 1 606.3 558.0999999999999" stroke="#555" stroke-width="1" fill="none" opacity="0.6"/><circle cx="641.6" cy="568.9" r="15.6" fill="#cfcfcf" filter="url(#b1)"/><circle cx="641.6" cy="568.3" r="15" fill="#fdfdfd"/><circle cx="641.6" cy="568.3" r="11.6" fill="#0c0c0c"/><circle cx="641.6" cy="568.3" r="9.4" fill="url(#cs)"/><g transform="translate(641.6 568.3) rotate(38)" filter="url(#b05)"><path d="M-7.2 -2.2H-2.2V-7.2H2.2V-2.2H7.2V2.2H2.2V7.2H-2.2V2.2H-7.2Z" fill="#0a0f0c"/><path d="M-6 -1.2H-1.2V-6H1.2V-1.2H6V1.2H1.2V6H-1.2V1.2H-6Z" fill="#0f4030"/><circle r="1.3" fill="#5a7a68"/></g><path d="M633.1 560.8 A11.4 11.4 0 0 1 646.6 558.0999999999999" stroke="#555" stroke-width="1" fill="none" opacity="0.6"/><circle cx="601.5" cy="724.2" r="15.0" fill="#cfcfcf" filter="url(#b1)"/><circle cx="601.5" cy="723.6" r="14.4" fill="#fdfdfd"/><circle cx="601.5" cy="723.6" r="12.1" fill="#0c0c0c"/><circle cx="601.5" cy="723.6" r="10.2" fill="url(#cs2)"/><g transform="translate(601.5 723.6) rotate(12)" filter="url(#b05)"><path d="M-7.2 -2.2H-2.2V-7.2H2.2V-2.2H7.2V2.2H2.2V7.2H-2.2V2.2H-7.2Z" fill="#0a0f0c"/><path d="M-6 -1.2H-1.2V-6H1.2V-1.2H6V1.2H1.2V6H-1.2V1.2H-6Z" fill="#0f4030"/><circle r="1.3" fill="#5a7a68"/></g><path d="M593.0 717.1 A10.6 10.6 0 0 1 608.0 715.1" stroke="#e8e8e8" stroke-width="1.8" fill="none" filter="url(#b05)"/><path d="M595.5 733.0 A11 11 0 0 0 608.5 732.2" stroke="#c8c8c8" stroke-width="1.3" fill="none" filter="url(#b05)"/><circle cx="641.4" cy="724.2" r="15.0" fill="#cfcfcf" filter="url(#b1)"/><circle cx="641.4" cy="723.6" r="14.4" fill="#fdfdfd"/><circle cx="641.4" cy="723.6" r="12.1" fill="#0c0c0c"/><circle cx="641.4" cy="723.6" r="10.2" fill="url(#cs2)"/><g transform="translate(641.4 723.6) rotate(8)" filter="url(#b05)"><path d="M-7.2 -2.2H-2.2V-7.2H2.2V-2.2H7.2V2.2H2.2V7.2H-2.2V2.2H-7.2Z" fill="#0a0f0c"/><path d="M-6 -1.2H-1.2V-6H1.2V-1.2H6V1.2H1.2V6H-1.2V1.2H-6Z" fill="#0f4030"/><circle r="1.3" fill="#5a7a68"/></g><path d="M632.9 717.1 A10.6 10.6 0 0 1 647.9 715.1" stroke="#e8e8e8" stroke-width="1.8" fill="none" filter="url(#b05)"/><path d="M635.4 733.0 A11 11 0 0 0 648.4 732.2" stroke="#c8c8c8" stroke-width="1.3" fill="none" filter="url(#b05)"/><rect x="576.9" y="700" width="86.2" height="10.2" fill="#e7e7e7"/><rect x="576.9" y="709.4" width="86.2" height="1" fill="#c4c4c4"/></g>
<text x="547.2" y="657" font-family="Liberation Sans, Noto Sans CJK SC, sans-serif" font-size="30" font-weight="bold" fill="#fff" text-anchor="start" textLength="149.8" lengthAdjust="spacingAndGlyphs">交流接触器</text>
<path d="M89 255 L89 314.5" fill="none" stroke="#0000ff" stroke-width="8.0" stroke-linejoin="round" />
<path d="M150 255 L150 314.5" fill="none" stroke="#ff0000" stroke-width="8.0" stroke-linejoin="round" />
<path d="M149 570.3 L149 598 L406 598 L406 434.8" fill="none" stroke="#ff0000" stroke-width="8.0" stroke-linejoin="round" />
<path d="M90 570.3 L90 679 L508 679 L508 568 L550 568" fill="none" stroke="#0000ff" stroke-width="8.0" stroke-linejoin="round" />
<path d="M90 639 L450 639 L450 434.8" fill="none" stroke="#0000ff" stroke-width="8.0" stroke-linejoin="round" />
<path d="M510 434.8 L510 487 L562 487 L562 523" fill="none" stroke="#0000ff" stroke-width="8.0" stroke-linejoin="round" />
<path d="M555 434.8 L555 447 L684.2 447 L684.2 523" fill="none" stroke="#ff0000" stroke-width="8.0" stroke-linejoin="round" />
<path d="M716 568 L690 568" fill="none" stroke="#ff0000" stroke-width="8.0" stroke-linejoin="round" />
<rect x="557.2" y="735" width="8.0" height="112" fill="url(#fadeB)"/>
<rect x="676.3" y="735" width="8.0" height="112" fill="url(#fadeR)"/>
<circle cx="89.0" cy="249.2" r="8.05" fill="#fff" stroke="#0000ff" stroke-width="7.9"/>
<circle cx="150" cy="249.2" r="8.05" fill="#fff" stroke="#ff0000" stroke-width="7.9"/>
<circle cx="562.2" cy="535.4" r="11.9" fill="#fff" stroke="#0000ff" stroke-width="3.8"/><text x="554.6" y="540.1614" font-family="Liberation Sans, sans-serif" font-size="13.3" font-weight="bold" fill="#0000ff" text-anchor="start" textLength="15.2" lengthAdjust="spacingAndGlyphs" stroke="#0000ff" stroke-width="0.35">A1</text>
<circle cx="562.0" cy="568.1" r="11.9" fill="#fff" stroke="#0000ff" stroke-width="3.8"/><text x="555.7" y="572.8614" font-family="Liberation Sans, sans-serif" font-size="13.3" font-weight="bold" fill="#0000ff" text-anchor="start" textLength="12.6" lengthAdjust="spacingAndGlyphs" stroke="#0000ff" stroke-width="0.35">L1</text>
<circle cx="684.2" cy="534.8" r="11.9" fill="#fff" stroke="#ff0000" stroke-width="3.8"/><text x="675.2" y="539.5613999999999" font-family="Liberation Sans, sans-serif" font-size="13.3" font-weight="bold" fill="#ff0000" text-anchor="start" textLength="18.0" lengthAdjust="spacingAndGlyphs" stroke="#ff0000" stroke-width="0.35">A2</text>
<circle cx="680.0" cy="567.9" r="11.9" fill="#fff" stroke="#ff0000" stroke-width="3.8"/><text x="672.35" y="572.6614" font-family="Liberation Sans, sans-serif" font-size="13.3" font-weight="bold" fill="#ff0000" text-anchor="start" textLength="15.3" lengthAdjust="spacingAndGlyphs" stroke="#ff0000" stroke-width="0.35">L2</text>
<circle cx="561.1" cy="722.9" r="12.15" fill="#fff" stroke="#0000ff" stroke-width="4.4"/><text x="554.65" y="727.7687999999999" font-family="Liberation Sans, sans-serif" font-size="13.6" font-weight="bold" fill="#0000ff" text-anchor="start" textLength="12.9" lengthAdjust="spacingAndGlyphs" stroke="#0000ff" stroke-width="0.35">T1</text>
<circle cx="680.9" cy="722.9" r="12.15" fill="#fff" stroke="#ff0000" stroke-width="4.4"/><text x="672.8" y="727.7687999999999" font-family="Liberation Sans, sans-serif" font-size="13.6" font-weight="bold" fill="#ff0000" text-anchor="start" textLength="16.2" lengthAdjust="spacingAndGlyphs" stroke="#ff0000" stroke-width="0.35">T2</text>
<text x="98.3" y="194.4" font-family="Liberation Sans, sans-serif" font-size="20.6" font-weight="bold" fill="#000" text-anchor="start" textLength="49" lengthAdjust="spacingAndGlyphs">220V</text>
<text x="70.9" y="228.3" font-family="Liberation Sans, Noto Sans CJK SC, sans-serif" font-size="19.6" font-weight="bold" fill="#0000ff" text-anchor="start" textLength="38.8" lengthAdjust="spacingAndGlyphs">零线</text>
<text x="131.2" y="228.3" font-family="Liberation Sans, Noto Sans CJK SC, sans-serif" font-size="19.6" font-weight="bold" fill="#ff0000" text-anchor="start" textLength="38.5" lengthAdjust="spacingAndGlyphs">火线</text></svg></body></html>
